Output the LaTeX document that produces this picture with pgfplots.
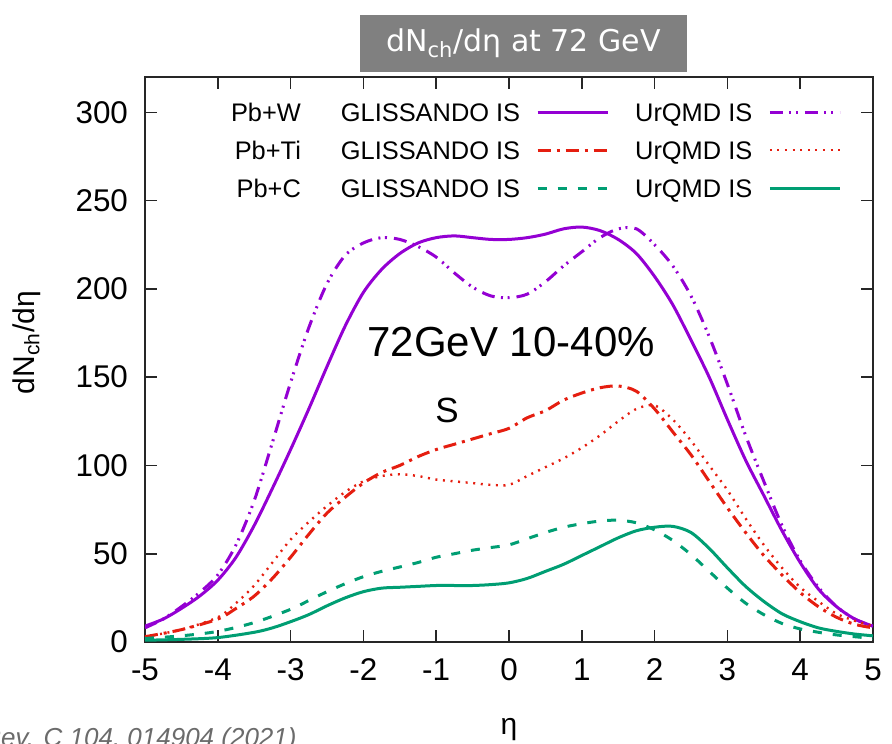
\documentclass[border=0pt]{standalone}
\usepackage{pgfplots}
\pgfplotsset{compat=1.18}
\usepackage{fontspec}
\setmainfont{Liberation Sans}
\newfontfamily\djv{DejaVu Sans}
\definecolor{cpur}{HTML}{9400D3}
\definecolor{cgrn}{HTML}{009E73}
\definecolor{cred}{HTML}{E51E10}
\begin{document}
\begin{tikzpicture}
\begin{axis}[
 scale only axis, width=364pt, height=282.5pt,
 at={(0,0)}, anchor=south west,
 xmin=-5, xmax=5, ymin=0, ymax=320,
 xtick={-5,-4,...,5}, ytick={0,50,...,300},
 tick align=inside, major tick length=6pt,
 axis line style={line width=0.8pt, black!85},
 every tick/.style={line width=0.8pt, black!85},
 ticklabel style={font=\fontsize{15.7}{18}\selectfont},
 xticklabel shift=5pt, yticklabel shift=5pt,
 /pgf/number format/assume math mode=true,
 xlabel={η}, ylabel={dN\textsubscript{ch}/dη},
 label style={font=\fontsize{15}{18}\selectfont},
 x label style={at={(axis description cs:0.5,-0.155)},anchor=center},
 y label style={at={(axis description cs:-0.163,0.53)},anchor=center},
 legend columns=2,
 legend plot pos=right,
 legend cell align=right,
 legend image code/.code={\draw[#1] (0pt,0pt) -- (35pt,0pt);},
 legend style={draw=none, fill=none, at={(0.957,0.954)}, anchor=north east,
   font=\fontsize{12.7}{14}\selectfont, inner sep=0pt,
   row sep=9.8pt,
   /tikz/every odd column/.append style={column sep=8pt},
   /tikz/every even column/.append style={column sep=13pt},
   nodes={inner sep=0pt, text height=9.1pt, text depth=0pt}},
 every axis plot/.append style={line width=1.5pt, smooth},
]
% Pb+W GLISSANDO
\addplot[cpur] coordinates {
(-5,9) (-4.75,13) (-4.5,19) (-4.25,26) (-4,35) (-3.75,48) (-3.5,66) (-3.25,87) (-3,109)
(-2.75,132) (-2.5,156) (-2.25,179) (-2,198) (-1.75,211) (-1.5,220) (-1.25,226) (-1,229)
(-0.75,230) (-0.5,229) (-0.25,228) (0,228) (0.25,229) (0.5,231) (0.75,234) (1,235)
(1.25,233) (1.5,228) (1.75,220) (2,207) (2.25,191) (2.5,171) (2.75,150) (3,126)
(3.25,103) (3.5,83) (3.75,63) (4,45) (4.25,30) (4.5,20) (4.75,13) (5,9)};
\addlegendentry{\makebox[36pt][r]{Pb+W}\hspace{20pt}GLISSANDO IS}
% Pb+W UrQMD
\addplot[cpur, dash pattern=on 6.5pt off 3.2pt on 1pt off 2.3pt on 1pt off 3.5pt] coordinates {
(-5,8) (-4.75,13) (-4.5,20) (-4.25,28) (-4,38) (-3.75,55) (-3.5,80) (-3.25,113) (-3,147)
(-2.75,178) (-2.5,203) (-2.25,219) (-2,226) (-1.75,229) (-1.5,228) (-1.25,224) (-1,218)
(-0.75,209) (-0.5,201) (-0.25,196) (0,195) (0.25,197) (0.5,204) (0.75,213) (1,221)
(1.25,229) (1.5,234) (1.75,234) (2,225) (2.25,213) (2.5,196) (2.75,173) (3,146)
(3.25,117) (3.5,91) (3.75,66) (4,46) (4.25,31) (4.5,20) (4.75,13) (5,9)};
\addlegendentry{UrQMD IS}
% Pb+Ti GLISSANDO
\addplot[cred, dash pattern=on 6.5pt off 3pt on 1.5pt off 3pt] coordinates {
(-5,3) (-4.5,7) (-4,13) (-3.75,19) (-3.5,26) (-3.25,36) (-3,48) (-2.75,61) (-2.5,73)
(-2.25,82) (-2,90) (-1.75,96) (-1.5,100) (-1.25,105) (-1,109) (-0.75,112) (-0.5,115)
(-0.25,118) (0,121) (0.25,127) (0.5,131) (0.75,137) (1,141) (1.25,144) (1.5,145)
(1.75,142) (2,132) (2.25,119) (2.5,106) (2.75,91) (3,76) (3.25,62) (3.5,49)
(3.75,38) (4,28) (4.25,20) (4.5,14) (4.75,10) (5,8)};
\addlegendentry{\makebox[36pt][r]{Pb+Ti}\hspace{20pt}GLISSANDO IS}
% Pb+Ti UrQMD
\addplot[cred, line width=1.2pt, dash pattern=on 1pt off 2.8pt] coordinates {
(-5,3) (-4.5,7) (-4,14) (-3.75,22) (-3.5,32) (-3.25,45) (-3,58) (-2.75,68) (-2.5,77)
(-2.25,85) (-2,91) (-1.75,94) (-1.5,95) (-1.25,94) (-1,92) (-0.75,91) (-0.5,90)
(-0.25,89) (0,89) (0.25,94) (0.5,99) (0.75,104) (1,110) (1.25,117) (1.5,125)
(1.75,132) (2,134) (2.25,126) (2.5,114) (2.75,100) (3,86) (3.25,70) (3.5,55)
(3.75,42) (4,31) (4.25,23) (4.5,16) (4.75,12) (5,9)};
\addlegendentry{UrQMD IS}
% Pb+C GLISSANDO
\addplot[cgrn, dash pattern=on 4.5pt off 5.5pt] coordinates {
(-5,2) (-4.5,3.5) (-4,6) (-3.5,11) (-3,18.5) (-2.75,23.5) (-2.5,28.5) (-2.25,33) (-2,37)
(-1.75,40) (-1.5,42.5) (-1.25,45) (-1,48) (-0.75,50) (-0.5,52) (-0.25,53.5) (0,55)
(0.25,58.5) (0.5,62) (0.75,65) (1,67) (1.25,68.5) (1.5,69) (1.75,67.5) (2,63.5) (2.25,57.5)
(2.5,49.5) (2.75,40) (3,30.5) (3.25,22) (3.5,15.5) (3.75,10.5) (4,7.4) (4.25,5.5) (4.5,4)
(4.75,3) (5,2)};
\addlegendentry{\makebox[36pt][r]{Pb+C}\hspace{20pt}GLISSANDO IS}
% Pb+C UrQMD
\addplot[cgrn] coordinates {
(-5,1) (-4.5,1.5) (-4,2.5) (-3.5,5.5) (-3.25,8) (-3,11.5) (-2.75,15.5) (-2.5,20.5) (-2.25,25) (-2,28.5)
(-1.75,30.5) (-1.5,31) (-1.25,31.5) (-1,32) (-0.75,32) (-0.5,32) (-0.25,32.5) (0,33.5)
(0.25,36) (0.5,40) (0.75,44) (1,49) (1.25,54) (1.5,59) (1.75,63) (2,65) (2.25,65.5)
(2.5,62) (2.75,53) (3,42) (3.25,31.5) (3.5,23) (3.75,16) (4,11.5) (4.25,8) (4.5,6)
(4.75,4.5) (5,3.5)};
\addlegendentry{UrQMD IS}
\node[font=\fontsize{21}{24}\selectfont, inner sep=0pt] at (axis cs:0.03,170) {72GeV 10-40\%};
\node[font=\fontsize{17.5}{20}\selectfont, inner sep=0pt] at (axis cs:-0.85,131) {S};
\end{axis}
\node[fill=gray, text=white, font=\djv\fontsize{15}{18}\selectfont,
  minimum width=163.5pt, minimum height=28.5pt, inner sep=0pt]
  at (189.25pt,299.25pt) {dN\textsubscript{ch}/dη at 72 GeV};
\node[anchor=base east, inner sep=0pt, font=\itshape\fontsize{13}{15}\selectfont, text=black!58]
  at (76pt,-52pt) {Phys. Rev. C 104, 014904 (2021)};
\pgfresetboundingbox
\path[use as bounding box] (-72.5pt,-50.5pt) rectangle (373.5pt,321pt);
\end{tikzpicture}
\end{document}
